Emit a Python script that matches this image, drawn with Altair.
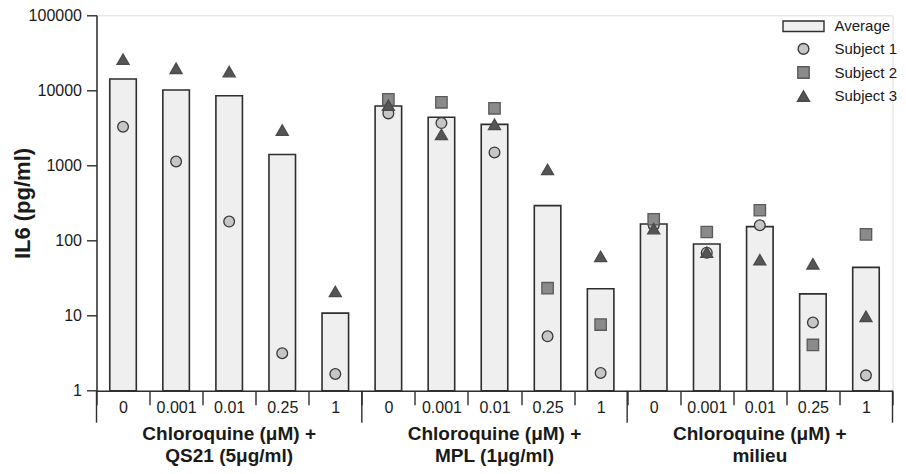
import altair as alt
import pandas as pd

# ---- data ----
groups = ["QS21", "MPL", "milieu"]
concentrations = ["0", "0.001", "0.01", "0.25", "1"]
group_titles = [
    "Chloroquine (μM) +\nQS21 (5μg/ml)",
    "Chloroquine (μM) +\nMPL (1μg/ml)",
    "Chloroquine (μM) +\nmilieu",
]

avg_qs21 = [14200, 10100, 8500, 1400, 10.8]
avg_mpl = [6190, 4380, 3530, 292, 22.8]
avg_milieu = [166, 89.8, 153, 19.5, 43.9]

subj1_qs21 = [3280, 1130, 179, 3.15, 1.67]
subj1_mpl = [4940, 3670, 1490, 5.3, 1.72]
subj1_milieu = [160, 68.9, 160, 8.1, 1.6]

subj2_qs21 = [None, None, None, None, None]
subj2_mpl = [7600, 6940, 5770, 23.2, 7.6]
subj2_milieu = [192, 130, 253, 4.07, 121]

subj3_qs21 = [26000, 19700, 17800, 2960, 21]
subj3_mpl = [6340, 2590, 3530, 884, 61.5]
subj3_milieu = [144, 70, 55.6, 49, 9.8]

series_names = ["Average", "Subject 1", "Subject 2", "Subject 3"]
y_ticks = [1, 10, 100, 1000, 10000, 100000]

# ---- build tables ----
cats = [f"{g}|{c}" for g in groups for c in concentrations]
avg = {"QS21": avg_qs21, "MPL": avg_mpl, "milieu": avg_milieu}
subj = {
    "Subject 1": {"QS21": subj1_qs21, "MPL": subj1_mpl, "milieu": subj1_milieu},
    "Subject 2": {"QS21": subj2_qs21, "MPL": subj2_mpl, "milieu": subj2_milieu},
    "Subject 3": {"QS21": subj3_qs21, "MPL": subj3_mpl, "milieu": subj3_milieu},
}

bar_rows, pt_rows = [], []
for g in groups:
    for i, c in enumerate(concentrations):
        bar_rows.append({"cat": f"{g}|{c}", "value": avg[g][i], "series": "Average"})
        for s in ["Subject 1", "Subject 2", "Subject 3"]:
            v = subj[s][g][i]
            if v is not None:
                pt_rows.append({"cat": f"{g}|{c}", "value": v, "series": s})
bars_df = pd.DataFrame(bar_rows)
pts_df = pd.DataFrame(pt_rows)

sep_start_df = pd.DataFrame({"cat": [f"{g}|{concentrations[0]}" for g in groups]})
sep_end_df = pd.DataFrame({"cat": [f"{groups[-1]}|{concentrations[-1]}"]})
title_df = pd.DataFrame({"cat": [f"{g}|{concentrations[2]}" for g in groups], "label": group_titles})

W, H = 796, 375.4
FONT = "Liberation Sans, Arial, sans-serif"
TXT = "#1a1a1a"
AX = "#2e2e2e"

xscale = alt.Scale(domain=cats, paddingInner=0, paddingOuter=0)
yscale = alt.Scale(type="log", domain=[1, 100000], nice=False)

x_enc = alt.X(
    "cat:N", scale=xscale, sort=cats, title=None,
    axis=alt.Axis(
        labelExpr="split(datum.value, '|')[1]", labelAngle=0,
        tickBand="extent", tickSize=14, tickWidth=1.4, tickColor=AX,
        domainColor=AX, domainWidth=1.5, labelFontSize=16, labelFont=FONT,
        labelColor=TXT, labelBaseline="middle", labelPadding=3,
    ),
)
y_axis = alt.Axis(
    values=y_ticks, format="d", tickSize=10, tickWidth=1.4, tickColor=AX,
    domainColor=AX, domainWidth=1.5, labelFontSize=16, labelFont=FONT,
    labelColor=TXT, labelPadding=5, grid=False,
    title="IL6 (pg/ml)", titleFont=FONT, titleFontSize=22, titleFontWeight="bold",
    titleColor=TXT, titleX=-74.5, titleY=H / 2, titleAlign="center",
    titleBaseline="middle", titleAngle=-90,
)

rect_path = "M-4.1,-1.05H4.1V1.05H-4.1Z"
fill_scale = alt.Scale(domain=series_names, range=["#efefef", "#c6c6c6", "#8a8a8a", "#555555"])
stroke_scale = alt.Scale(domain=series_names, range=["#2e2e2e", "#3a3a3a", "#5a5a5a", "#4a4a4a"])
shape_scale = alt.Scale(domain=series_names, range=[rect_path, "circle", "square", "triangle-up"])
size_scale = alt.Scale(domain=series_names, range=[100, 145, 140, 220])

legend = alt.Legend(
    title=None, orient="none", legendX=699.5, legendY=3.5, padding=0,
    labelFontSize=15, labelFont=FONT, labelColor=TXT, labelOffset=23.5,
    rowPadding=5.6, symbolStrokeWidth=1.4, labelLimit=200,
)

bars = alt.Chart(bars_df).mark_bar(width={"band": 0.5}, strokeWidth=1.6).encode(
    x=x_enc,
    y=alt.Y("value:Q", scale=yscale, axis=y_axis),
    y2=alt.Y2(datum=1),
    fill=alt.Fill("series:N", scale=fill_scale, legend=legend),
    stroke=alt.Stroke("series:N", scale=stroke_scale, legend=legend),
)

points = alt.Chart(pts_df).mark_point(filled=True, opacity=1, strokeWidth=1.3).encode(
    x=alt.X("cat:N", scale=xscale, sort=cats),
    y=alt.Y("value:Q", scale=yscale),
    fill=alt.Fill("series:N", scale=fill_scale, legend=legend),
    stroke=alt.Stroke("series:N", scale=stroke_scale, legend=legend),
    shape=alt.Shape("series:N", scale=shape_scale, legend=legend),
    size=alt.Size("series:N", scale=size_scale, legend=legend),
)

sep_start = alt.Chart(sep_start_df).mark_rule(color=AX, strokeWidth=1.4).encode(
    x=alt.X("cat:N", scale=xscale, sort=cats, bandPosition=0),
    y=alt.value(H), y2=alt.value(H + 32),
)
sep_end = alt.Chart(sep_end_df).mark_rule(color=AX, strokeWidth=1.4).encode(
    x=alt.X("cat:N", scale=xscale, sort=cats, bandPosition=1),
    y=alt.value(H), y2=alt.value(H + 32),
)

titles = alt.Chart(title_df).mark_text(
    lineBreak="\n", font=FONT, fontSize=19, fontWeight="bold", color=TXT,
    baseline="top", align="center", lineHeight=22,
).encode(
    x=alt.X("cat:N", scale=xscale, sort=cats),
    y=alt.value(H + 34),
    text="label:N",
)

chart = alt.layer(bars, points, sep_start, sep_end, titles).properties(
    width=W, height=H,
    autosize=alt.AutoSizeParams(type="none"),
    padding={"left": 88.5, "top": 7.3, "right": 5.5, "bottom": 75.3},
).configure_view(stroke=None).configure(background="white")

chart.save("out.html", embed_options={"renderer": "svg", "actions": False})
